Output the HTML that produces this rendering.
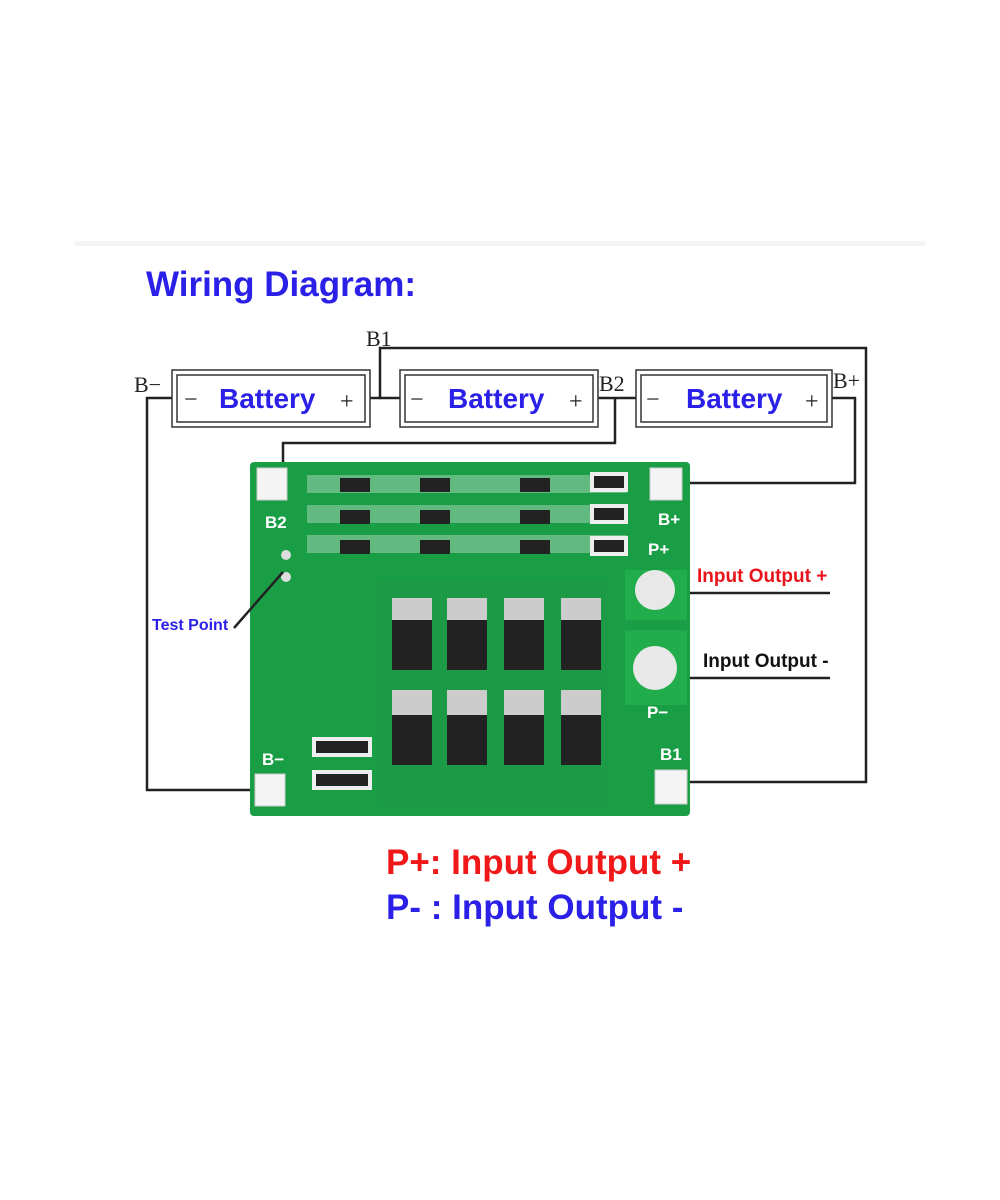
<!DOCTYPE html>
<html><head><meta charset="utf-8"><style>
body{margin:0;width:1000px;height:1200px;background:#fff;position:relative;overflow:hidden;font-family:"Liberation Sans",sans-serif}
.t{position:absolute;white-space:nowrap}
</style></head><body>
<div style="position:absolute;left:75px;top:241px;width:850px;height:5px;background:#f4f4f4"></div>
<div class="t" style="left:146px;top:265px;font-size:35px;font-weight:bold;color:#2a20e8">Wiring Diagram:</div>
<svg width="1000" height="1200" style="position:absolute;left:0;top:0">
<g fill="none" stroke="#222" stroke-width="2.5">
<polyline points="370,398 380,398 380,348 866,348 866,782 690,782"/>
<polyline points="380,398 400,398"/>
<polyline points="598,398 620,398 636,398"/>
<polyline points="615,398 615,443 283,443 283,485"/>
<polyline points="832,398 855,398 855,483 690,483"/>
<polyline points="172,398 147,398 147,790 270,790"/>
<line x1="668" y1="593" x2="830" y2="593"/>
<line x1="668" y1="678" x2="830" y2="678"/>
</g>
<g fill="#fff" stroke="#333" stroke-width="1.5">
<rect x="172" y="370" width="198" height="57"/><rect x="177" y="375" width="188" height="47"/>
<rect x="400" y="370" width="198" height="57"/><rect x="405" y="375" width="188" height="47"/>
<rect x="636" y="370" width="196" height="57"/><rect x="641" y="375" width="186" height="47"/>
</g>
<g font-family="Liberation Serif,serif" font-size="24" fill="#222">
<text x="184" y="407">−</text><text x="340" y="409">+</text>
<text x="410" y="407">−</text><text x="569" y="409">+</text>
<text x="646" y="407">−</text><text x="805" y="409">+</text>
<text x="134" y="392" font-size="22">B−</text>
<text x="366" y="346" font-size="22">B1</text>
<text x="599" y="391" font-size="22">B2</text>
<text x="833" y="388" font-size="22">B+</text>
</g>
<g font-family="Liberation Sans,sans-serif" font-weight="bold" font-size="28" fill="#2a20e8">
<text x="219" y="408">Battery</text><text x="448" y="408">Battery</text><text x="686" y="408">Battery</text>
</g>
<rect x="250" y="462" width="440" height="354" rx="4" fill="#1a9e45"/>
<rect x="625" y="570" width="62" height="50" fill="#21ad4c"/>
<rect x="625" y="630" width="62" height="75" fill="#21ad4c"/>
<rect x="378" y="580" width="230" height="226" fill="#1c9a45"/>
<g fill="#f4f4f4" stroke="#ccc">
<rect x="257" y="468" width="30" height="32"/>
<rect x="650" y="468" width="32" height="32"/>
<rect x="255" y="774" width="30" height="32"/>
<rect x="655" y="770" width="32" height="34"/>
</g>
<circle cx="655" cy="590" r="20" fill="#e8e8e8"/>
<circle cx="655" cy="668" r="22" fill="#e8e8e8"/>
<circle cx="286" cy="555" r="5" fill="#ddd"/><circle cx="286" cy="577" r="5" fill="#ddd"/>
<g fill="#eee">
<rect x="307" y="475" width="320" height="18" opacity=".35"/>
<rect x="307" y="505" width="320" height="18" opacity=".35"/>
<rect x="307" y="535" width="320" height="18" opacity=".35"/>
<rect x="590" y="472" width="38" height="20"/><rect x="590" y="504" width="38" height="20"/><rect x="590" y="536" width="38" height="20"/>
<rect x="312" y="737" width="60" height="20"/><rect x="312" y="770" width="60" height="20"/>
</g>
<g fill="#222">
<rect x="594" y="476" width="30" height="12"/><rect x="594" y="508" width="30" height="12"/><rect x="594" y="540" width="30" height="12"/>
<rect x="316" y="741" width="52" height="12"/><rect x="316" y="774" width="52" height="12"/>
<rect x="392" y="620" width="40" height="50"/><rect x="447" y="620" width="40" height="50"/><rect x="504" y="620" width="40" height="50"/><rect x="561" y="620" width="40" height="50"/>
<rect x="392" y="715" width="40" height="50"/><rect x="447" y="715" width="40" height="50"/><rect x="504" y="715" width="40" height="50"/><rect x="561" y="715" width="40" height="50"/>
<rect x="340" y="478" width="30" height="14"/><rect x="420" y="478" width="30" height="14"/><rect x="520" y="478" width="30" height="14"/>
<rect x="340" y="510" width="30" height="14"/><rect x="420" y="510" width="30" height="14"/><rect x="520" y="510" width="30" height="14"/>
<rect x="340" y="540" width="30" height="14"/><rect x="420" y="540" width="30" height="14"/><rect x="520" y="540" width="30" height="14"/>
</g>
<g fill="#ccc">
<rect x="392" y="598" width="40" height="22"/><rect x="447" y="598" width="40" height="22"/><rect x="504" y="598" width="40" height="22"/><rect x="561" y="598" width="40" height="22"/>
<rect x="392" y="690" width="40" height="25"/><rect x="447" y="690" width="40" height="25"/><rect x="504" y="690" width="40" height="25"/><rect x="561" y="690" width="40" height="25"/>
</g>
<line x1="234" y1="628" x2="283" y2="572" stroke="#222" stroke-width="2.5"/>
<g font-family="Liberation Sans,sans-serif" font-weight="bold" fill="#fff" font-size="17">
<text x="265" y="528">B2</text><text x="658" y="525">B+</text><text x="648" y="555">P+</text>
<text x="647" y="718">P−</text><text x="660" y="760">B1</text><text x="262" y="765">B−</text>
</g>
<text x="152" y="630" font-family="Liberation Sans,sans-serif" font-weight="bold" font-size="16" fill="#2a20e8">Test Point</text>
<text x="697" y="582" font-family="Liberation Sans,sans-serif" font-weight="bold" font-size="19" fill="#e8141a">Input Output +</text>
<text x="703" y="667" font-family="Liberation Sans,sans-serif" font-weight="bold" font-size="19" fill="#111">Input Output -</text>
</svg>
<div class="t" style="left:386px;top:843px;font-size:35px;font-weight:bold;color:#f01818">P+: Input Output +</div>
<div class="t" style="left:386px;top:888px;font-size:35px;font-weight:bold;color:#2a20e8">P- : Input Output -</div>
</body></html>
